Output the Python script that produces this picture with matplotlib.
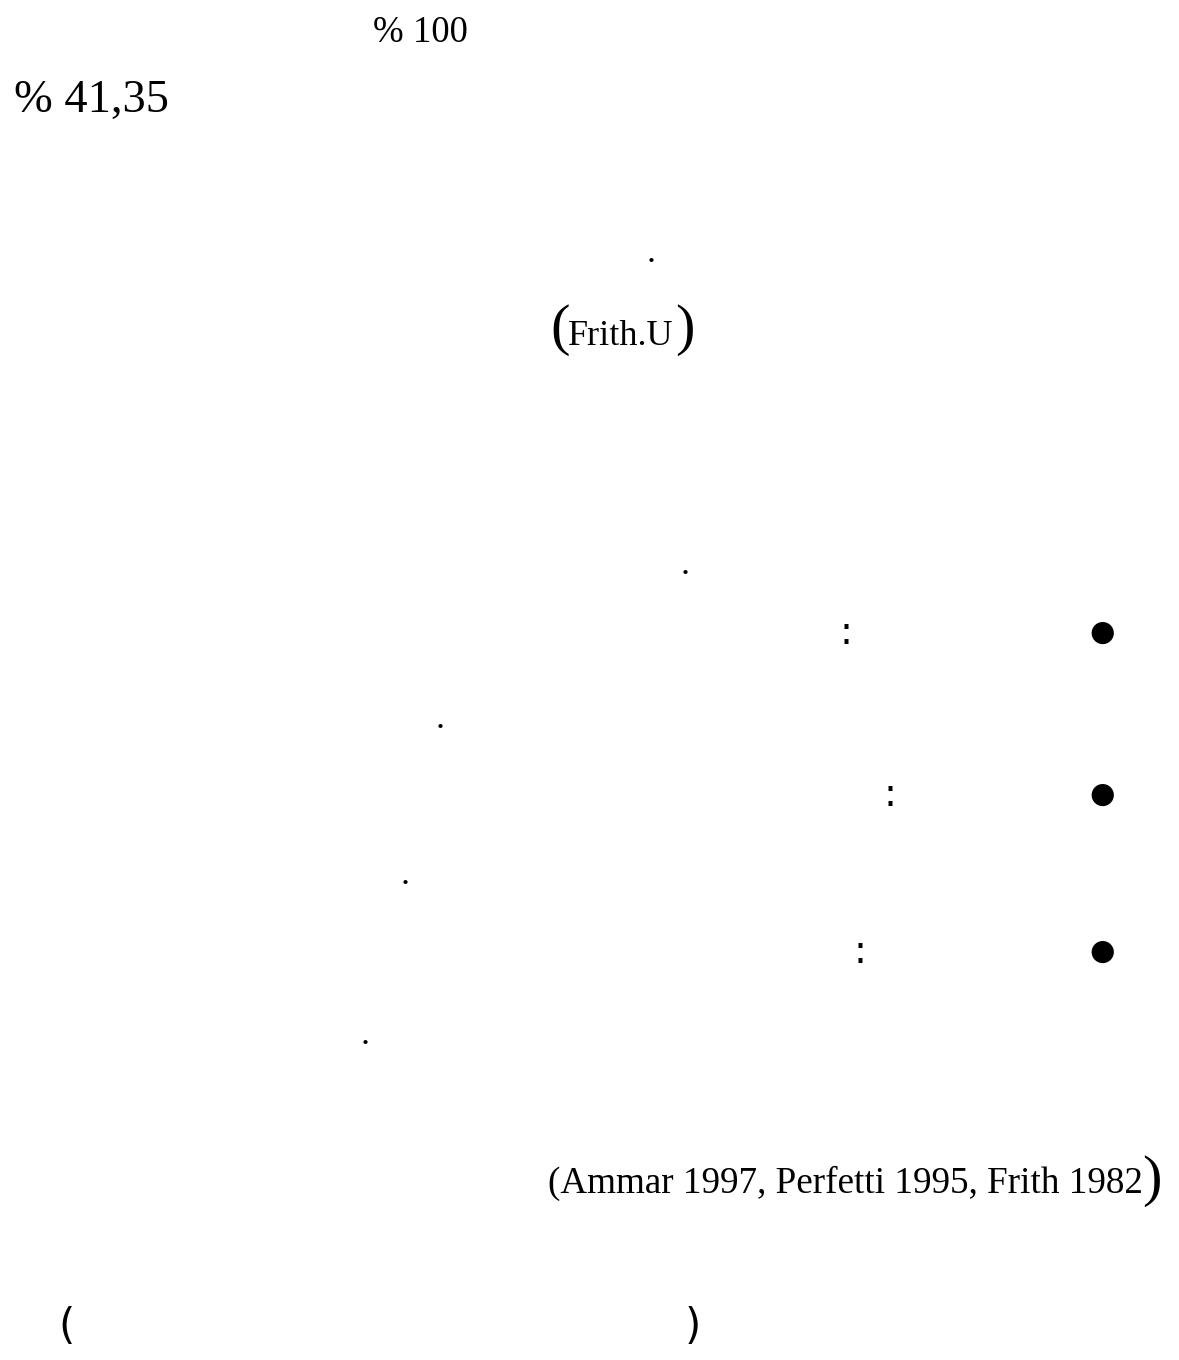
import matplotlib
matplotlib.use("Agg")
from matplotlib import pyplot as plt

# Textes visibles de la page (le texte arabe n'est pas rendu dans la référence)
pourcentages = ["% 100", "% 41,35"]
references = ["Frith.U", "Ammar 1997, Perfetti 1995, Frith 1982"]
puce = "\u25cf"
point = "."

SERIF = "Liberation Serif"
SANS = "DejaVu Sans"

fig = plt.figure(figsize=(11.79, 13.60), dpi=100)
ax = fig.add_axes([0, 0, 1, 1])
ax.set_xlim(0, 1179)
ax.set_ylim(1360, 0)
ax.axis("off")

# Pourcentages en haut
ax.text(373, 42, pourcentages[0], fontsize=26.5, family=SERIF, va="baseline", ha="left")
ax.text(14, 112, pourcentages[1], fontsize=33.5, family=SERIF, va="baseline", ha="left")

# Points de fin de phrase
for x, y in zip([651, 685, 440, 405, 365], [253, 565, 720, 875, 1035]):
    ax.text(x, y, point, fontsize=26, family=SERIF, ha="center", va="center")

# (Frith.U)
ax.text(621, 345, references[0], fontsize=26, family=SERIF, ha="center", va="baseline")
ax.text(560, 330, "(", fontsize=42, family=SERIF, ha="center", va="center")
ax.text(685, 330, ")", fontsize=42, family=SERIF, ha="center", va="center")

# Puces et deux-points
for (yb, xc) in zip([633, 795, 952], [846, 890, 860]):
    ax.text(1102, yb, puce, fontsize=21, family=SANS, ha="center", va="center")
    ax.text(xc, yb, ":", fontsize=28, family=SANS, ha="center", va="center")

# Citation
ax.text(548, 1193, "(" + references[1], fontsize=26.7, family=SERIF, ha="left", va="baseline")
ax.text(1152, 1181, ")", fontsize=42, family=SERIF, ha="center", va="center")

# Parenthèses en bas
ax.text(67, 1327, "(", fontsize=30, family=SANS, ha="center", va="center")
ax.text(693, 1327, ")", fontsize=30, family=SANS, ha="center", va="center")

fig.savefig("out.png", dpi=100, facecolor="white")
